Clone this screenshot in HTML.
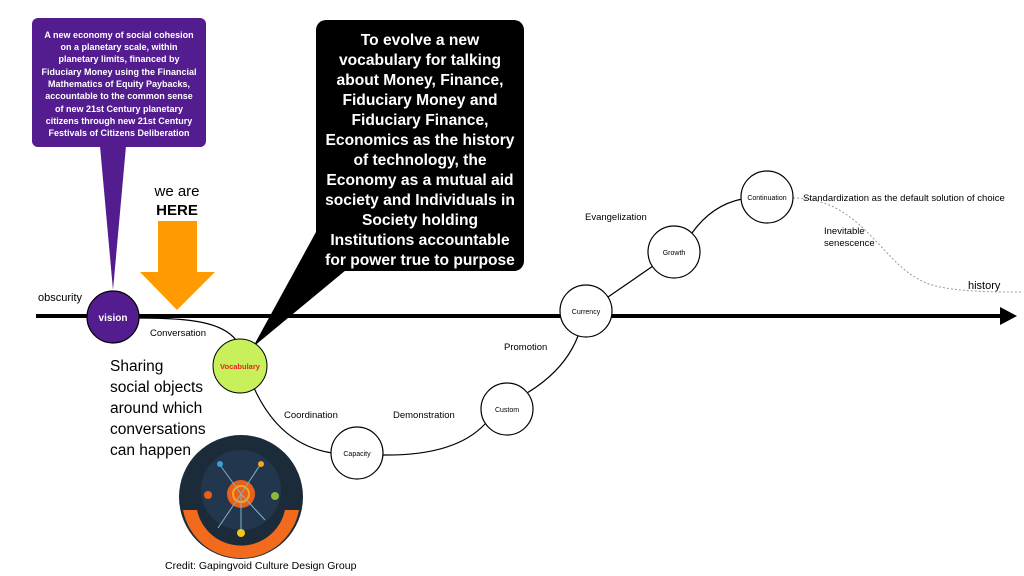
<!DOCTYPE html>
<html><head><meta charset="utf-8"><style>
html,body{margin:0;padding:0;background:#fff;width:1024px;height:576px;overflow:hidden}
svg{display:block;font-family:"Liberation Sans",Arial,sans-serif}
</style></head><body>
<svg width="1024" height="576" viewBox="0 0 1024 576" xmlns="http://www.w3.org/2000/svg">
<rect x="32" y="18" width="174" height="129" rx="6" fill="#531c8f"/>
<polygon points="100,146 126,146 113,290" fill="#531c8f"/>
<g fill="#fff" font-size="9" font-weight="bold" text-anchor="middle">
<text x="119" y="38">A new economy of social cohesion</text>
<text x="119" y="50">on a planetary scale, within</text>
<text x="119" y="62">planetary limits, financed by</text>
<text x="119" y="75">Fiduciary Money using the Financial</text>
<text x="119" y="87">Mathematics of Equity Paybacks,</text>
<text x="119" y="99">accountable to the common sense</text>
<text x="119" y="112">of new 21st Century planetary</text>
<text x="119" y="124">citizens through new 21st Century</text>
<text x="119" y="136">Festivals of Citizens Deliberation</text>
</g>
<text x="177" y="196" font-size="15" text-anchor="middle">we are</text>
<text x="177" y="215" font-size="15" font-weight="bold" text-anchor="middle">HERE</text>
<polygon points="158,221 197,221 197,272 215,272 177,310 140,272 158,272" fill="#ff9a00"/>
<rect x="316" y="20" width="208" height="251" rx="10" fill="#000"/>
<polygon points="316,232 346,270 253,347" fill="#000"/>
<g fill="#fff" font-size="15.6" font-weight="bold" text-anchor="middle">
<text x="420" y="45">To evolve a new</text>
<text x="420" y="65">vocabulary for talking</text>
<text x="420" y="85">about Money, Finance,</text>
<text x="420" y="105">Fiduciary Money and</text>
<text x="420" y="125">Fiduciary Finance,</text>
<text x="420" y="145">Economics as the history</text>
<text x="420" y="165">of technology, the</text>
<text x="420" y="185">Economy as a mutual aid</text>
<text x="420" y="205">society and Individuals in</text>
<text x="420" y="225">Society holding</text>
<text x="420" y="245">Institutions accountable</text>
<text x="420" y="265">for power true to purpose</text>
</g>
<line x1="36" y1="316" x2="1002" y2="316" stroke="#000" stroke-width="4"/>
<polygon points="1000,307 1017,316 1000,325" fill="#000"/>
<text x="38" y="301" font-size="11">obscurity</text>
<text x="968" y="289" font-size="11">history</text>
<g fill="none" stroke="#000" stroke-width="1.2">
<path d="M139,318 C190,318 222,322 236,340"/>
<path d="M254,388 Q280,445 332,453"/>
<path d="M383,455 Q455,456 485,424"/>
<path d="M527,393 Q565,370 578,336"/>
<line x1="608" y1="297" x2="653" y2="266"/>
<path d="M692,233 Q712,205 742,199"/>
</g>
<path d="M793,198 C860,198 880,260 920,280 C940,292 990,292 1022,292" fill="none" stroke="#999" stroke-width="1" stroke-dasharray="2,2"/>
<circle cx="113" cy="317" r="26" fill="#531c8f" stroke="#000" stroke-width="1.2"/>
<text x="113" y="321" font-size="10" font-weight="bold" fill="#fff" text-anchor="middle">vision</text>
<circle cx="240" cy="366" r="27" fill="#c8f05a" stroke="#000" stroke-width="1"/>
<text x="240" y="369" font-size="7.5" font-weight="bold" fill="#e8221b" text-anchor="middle">Vocabulary</text>
<g fill="#fff" stroke="#000" stroke-width="1.2">
<circle cx="357" cy="453" r="26"/><circle cx="507" cy="409" r="26"/>
<circle cx="586" cy="311" r="26"/><circle cx="674" cy="252" r="26"/>
<circle cx="767" cy="197" r="26"/>
</g>
<g font-size="7" text-anchor="middle">
<text x="357" y="456">Capacity</text><text x="507" y="412">Custom</text>
<text x="586" y="314">Currency</text><text x="674" y="255">Growth</text>
<text x="767" y="200">Continuation</text>
</g>
<g font-size="9.5">
<text x="150" y="336">Conversation</text>
<text x="284" y="418">Coordination</text>
<text x="393" y="418">Demonstration</text>
<text x="504" y="350">Promotion</text>
<text x="585" y="220">Evangelization</text>
<text x="803" y="201">Standardization as the default solution of choice</text>
<text x="824" y="234">Inevitable</text>
<text x="824" y="246">senescence</text>
</g>
<g font-size="15.5">
<text x="110" y="371">Sharing</text>
<text x="110" y="392">social objects</text>
<text x="110" y="413">around which</text>
<text x="110" y="434">conversations</text>
<text x="110" y="455">can happen</text>
</g>
<circle cx="241" cy="497" r="62" fill="#1c2b3a"/>
<path d="M183,510 A59,59 0 0 0 299,510 L285,510 A45,45 0 0 1 197,510 Z" fill="#f26a1b"/>
<circle cx="241" cy="490" r="40" fill="#22374d"/>
<circle cx="241" cy="494" r="14" fill="#e8601c"/>
<circle cx="241" cy="494" r="8" fill="none" stroke="#f5a623" stroke-width="2"/>
<g stroke="#7fb3c8" stroke-width="1">
<line x1="241" y1="494" x2="220" y2="465"/><line x1="241" y1="494" x2="260" y2="465"/>
<line x1="241" y1="494" x2="218" y2="528"/><line x1="241" y1="494" x2="265" y2="520"/>
<line x1="241" y1="494" x2="241" y2="532"/>
</g>
<circle cx="220" cy="464" r="3" fill="#3aa0d8"/><circle cx="261" cy="464" r="3" fill="#f5a623"/>
<circle cx="241" cy="533" r="4" fill="#f5c518"/><circle cx="275" cy="496" r="4" fill="#8ab83a"/>
<circle cx="208" cy="495" r="4" fill="#e8601c"/>
<text x="165" y="569" font-size="10.5">Credit: Gapingvoid Culture Design Group</text>
</svg>
</body></html>
